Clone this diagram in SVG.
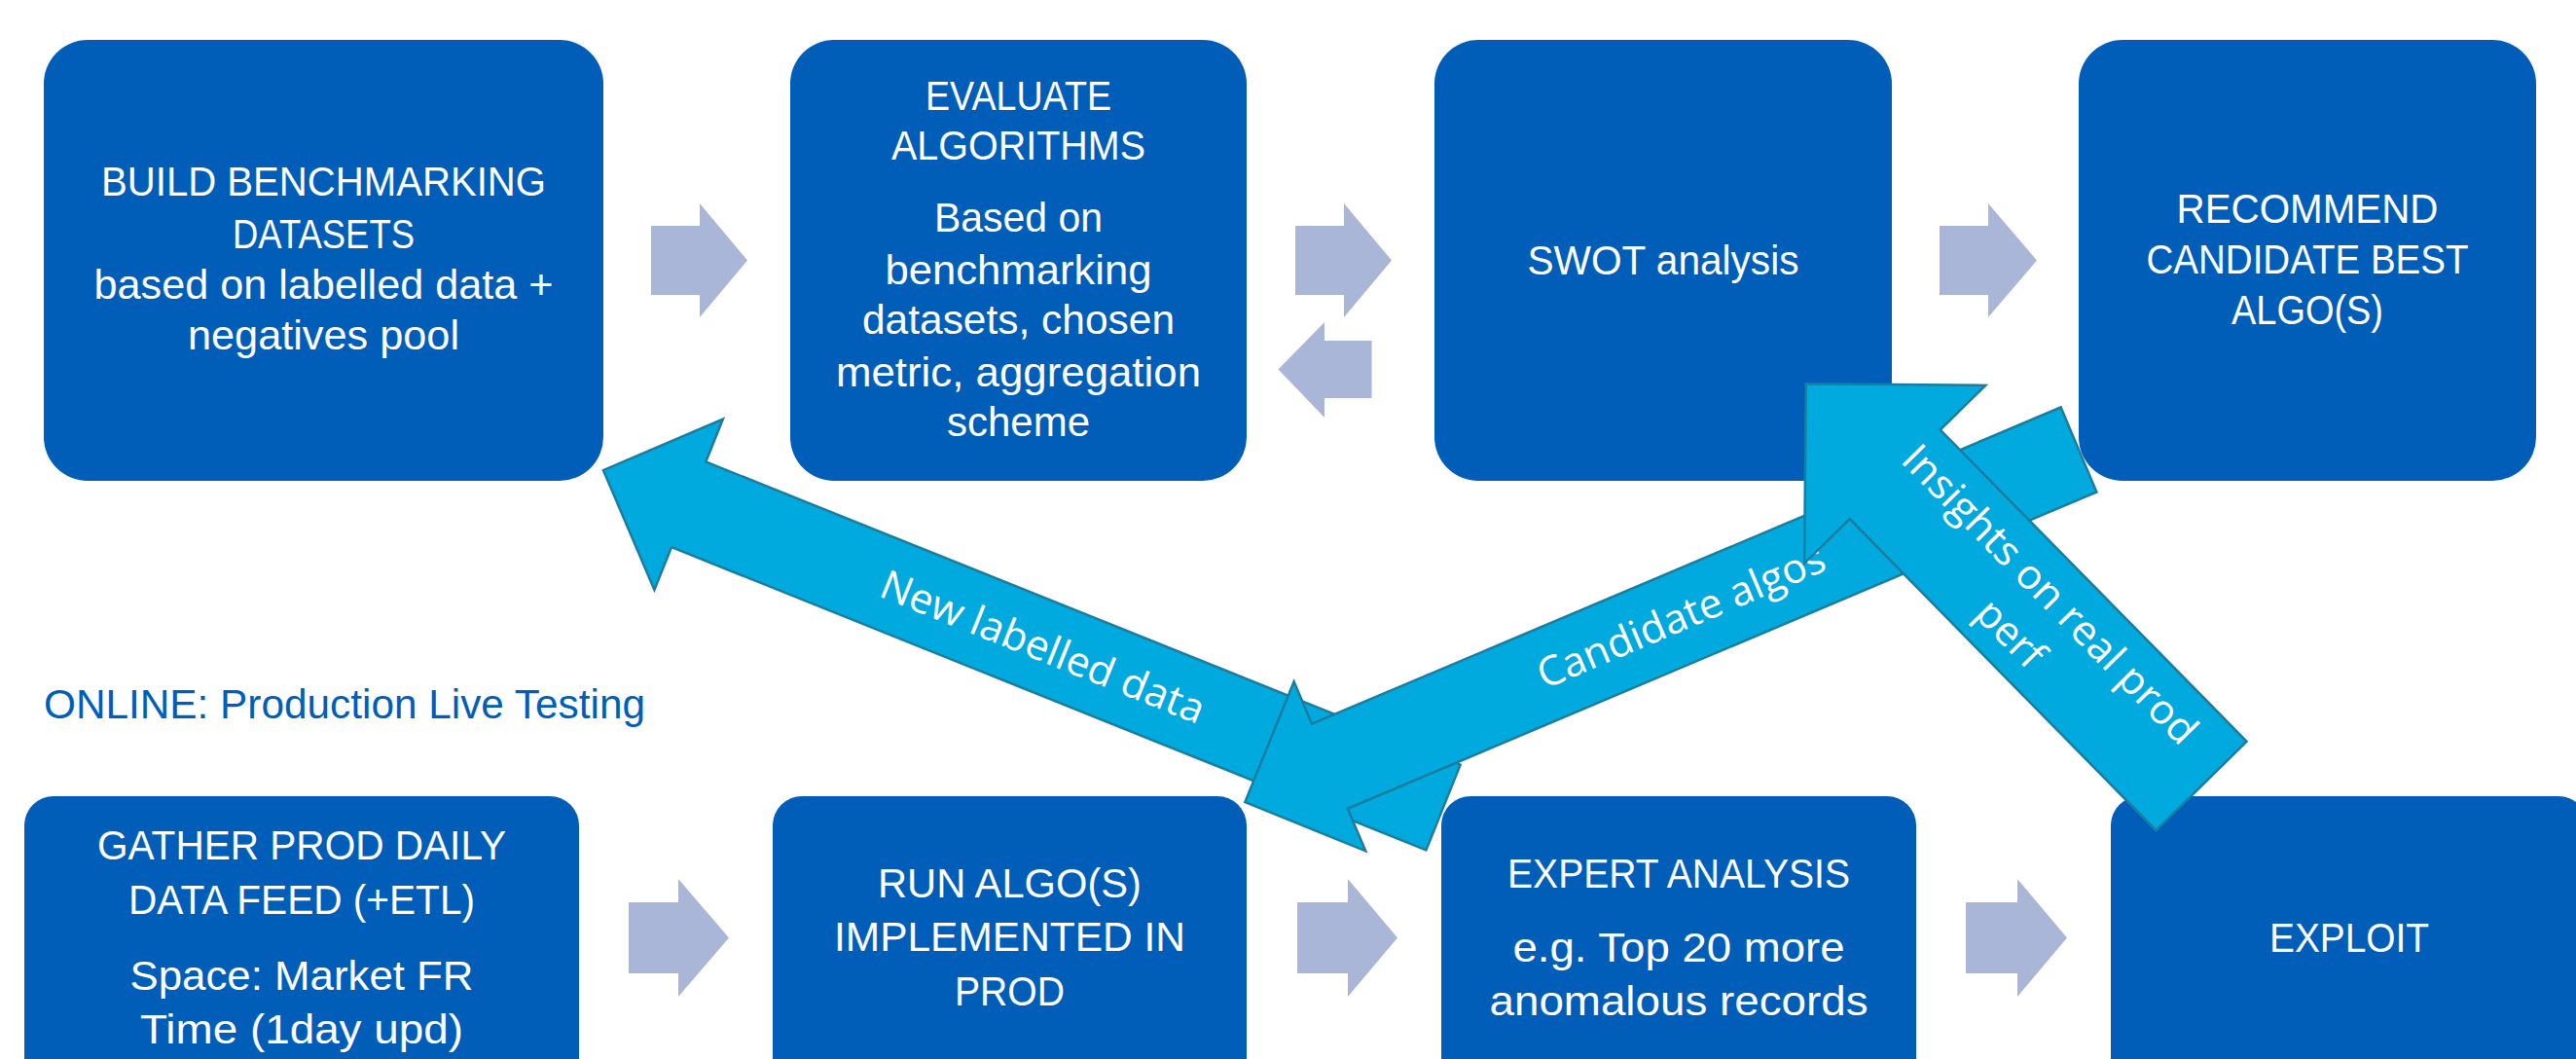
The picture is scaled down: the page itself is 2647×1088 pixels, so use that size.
<svg xmlns="http://www.w3.org/2000/svg" width="2647" height="1088" viewBox="0 0 2647 1088">
  <style>
    .box { fill: #005EB8; }
    .step { fill: #AAB6D8; }
    .flow { fill: #00AADF; stroke: #1A7C9E; stroke-width: 2.5; stroke-linejoin: miter; }
    .t { font-family: "Liberation Sans", Arial, sans-serif; font-size: 42px; fill: #FFFFFF; text-anchor: middle; }
    .lbl { font-family: "Open Sans", "Noto Sans", sans-serif; font-size: 42px; fill: #FFFFFF; text-anchor: middle; }
    .section { font-family: "Liberation Sans", Arial, sans-serif; font-size: 42px; fill: #005EB8; }
  </style>
  <rect width="2647" height="1088" fill="#FFFFFF"/>

  <!-- offline row -->
  <g id="build-datasets">
    <rect class="box" x="45" y="41" width="575" height="453" rx="45"/>
    <text class="t" x="332.5" y="201" textLength="457" lengthAdjust="spacingAndGlyphs">BUILD BENCHMARKING</text>
    <text class="t" x="332.5" y="255" textLength="187" lengthAdjust="spacingAndGlyphs">DATASETS</text>
    <text class="t" x="332.5" y="307" textLength="472" lengthAdjust="spacingAndGlyphs">based on labelled data +</text>
    <text class="t" x="332.5" y="359" textLength="279" lengthAdjust="spacingAndGlyphs">negatives pool</text>
  </g>
  <g id="evaluate-algorithms">
    <rect class="box" x="812" y="41" width="469" height="453" rx="45"/>
    <text class="t" x="1046.5" y="113" textLength="191" lengthAdjust="spacingAndGlyphs">EVALUATE</text>
    <text class="t" x="1046.5" y="164" textLength="261" lengthAdjust="spacingAndGlyphs">ALGORITHMS</text>
    <text class="t" x="1046.5" y="238" textLength="173" lengthAdjust="spacingAndGlyphs">Based on</text>
    <text class="t" x="1046.5" y="292" textLength="274" lengthAdjust="spacingAndGlyphs">benchmarking</text>
    <text class="t" x="1046.5" y="343" textLength="321" lengthAdjust="spacingAndGlyphs">datasets, chosen</text>
    <text class="t" x="1046.5" y="397" textLength="375" lengthAdjust="spacingAndGlyphs">metric, aggregation</text>
    <text class="t" x="1046.5" y="448" textLength="147" lengthAdjust="spacingAndGlyphs">scheme</text>
  </g>
  <g id="swot-analysis">
    <rect class="box" x="1474" y="41" width="470" height="453" rx="45"/>
    <text class="t" x="1709" y="282" textLength="279" lengthAdjust="spacingAndGlyphs">SWOT analysis</text>
  </g>
  <g id="recommend-best">
    <rect class="box" x="2136" y="41" width="470" height="453" rx="45"/>
    <text class="t" x="2371" y="229" textLength="269" lengthAdjust="spacingAndGlyphs">RECOMMEND</text>
    <text class="t" x="2371" y="281" textLength="331" lengthAdjust="spacingAndGlyphs">CANDIDATE BEST</text>
    <text class="t" x="2371" y="333" textLength="156" lengthAdjust="spacingAndGlyphs">ALGO(S)</text>
  </g>

  <text id="online-title" class="section" x="45" y="738" textLength="618" lengthAdjust="spacingAndGlyphs">ONLINE: Production Live Testing</text>

  <!-- online row -->
  <g id="gather-feed">
    <rect class="box" x="25" y="818" width="570" height="400" rx="30"/>
    <text class="t" x="310" y="883" textLength="420" lengthAdjust="spacingAndGlyphs">GATHER PROD DAILY</text>
    <text class="t" x="310" y="939" textLength="356" lengthAdjust="spacingAndGlyphs">DATA FEED (+ETL)</text>
    <text class="t" x="310" y="1017" textLength="353" lengthAdjust="spacingAndGlyphs">Space: Market FR</text>
    <text class="t" x="310" y="1072" textLength="332" lengthAdjust="spacingAndGlyphs">Time (1day upd)</text>
  </g>
  <g id="run-algos">
    <rect class="box" x="794" y="818" width="487" height="400" rx="30"/>
    <text class="t" x="1037.5" y="922" textLength="271" lengthAdjust="spacingAndGlyphs">RUN ALGO(S)</text>
    <text class="t" x="1037.5" y="977" textLength="361" lengthAdjust="spacingAndGlyphs">IMPLEMENTED IN</text>
    <text class="t" x="1037.5" y="1033" textLength="113" lengthAdjust="spacingAndGlyphs">PROD</text>
  </g>
  <g id="expert-analysis">
    <rect class="box" x="1481" y="818" width="488" height="400" rx="30"/>
    <text class="t" x="1725" y="912" textLength="352" lengthAdjust="spacingAndGlyphs">EXPERT ANALYSIS</text>
    <text class="t" x="1725" y="988" textLength="341" lengthAdjust="spacingAndGlyphs">e.g. Top 20 more</text>
    <text class="t" x="1725" y="1043" textLength="389" lengthAdjust="spacingAndGlyphs">anomalous records</text>
  </g>
  <g id="exploit">
    <rect class="box" x="2169" y="818" width="490" height="400" rx="30"/>
    <text class="t" x="2414" y="978" textLength="164" lengthAdjust="spacingAndGlyphs">EXPLOIT</text>
  </g>

  <g id="connectors">
    <!-- step arrows between boxes -->
    <polygon class="step" points="669,232 719,232 719,209 768,267.5 719,326 719,303 669,303"/>
    <polygon class="step" points="1331,232 1381,232 1381,209 1430,267.5 1381,326 1381,303 1331,303"/>
    <polygon class="step" points="1409.5,350 1361,350 1361,331 1313.5,379.5 1361,429 1361,409 1409.5,409"/>
    <polygon class="step" points="1993,232 2043,232 2043,209 2093,267.5 2043,326 2043,303 1993,303"/>
    <polygon class="step" points="646,927 697,927 697,903 749,963.5 697,1024 697,1000 646,1000"/>
    <polygon class="step" points="1333,927 1385,927 1385,903 1436,963.5 1385,1024 1385,1000 1333,1000"/>
    <polygon class="step" points="2020,927 2073,927 2073,903 2124,963.5 2073,1024 2073,1000 2020,1000"/>

    <!-- feedback flows: origin at tail centre, +x toward the tip -->
    <g id="flow-new-labelled">
      <polygon class="flow" transform="translate(1483,829.5) rotate(201.87)" points="0,-47.25 835.5,-47.25 835.5,-94.5 930,0 835.5,94.5 835.5,47.25 0,47.25"/>
      <text class="lbl" transform="translate(1071.7,664.3) rotate(21.87)" y="15" textLength="355" lengthAdjust="spacingAndGlyphs">New labelled data</text>
    </g>
    <g id="flow-candidate">
      <polygon class="flow" transform="translate(2136,462) rotate(157.09)" points="0,-47.25 835.5,-47.25 835.5,-94.5 930,0 835.5,94.5 835.5,47.25 0,47.25"/>
      <text class="lbl" transform="translate(1728,634.5) rotate(-22.91)" y="13" textLength="317" lengthAdjust="spacingAndGlyphs">Candidate algos</text>
    </g>
    <g id="flow-insights">
      <polygon class="flow" transform="translate(2262,807.5) rotate(-134.52)" points="0,-65.25 449,-65.25 449,-130.5 579.5,0 449,130.5 449,65.25 0,65.25"/>
      <g transform="translate(2087,630) rotate(45.48)">
        <text class="lbl" y="-13" textLength="412" lengthAdjust="spacingAndGlyphs">Insights on real prod</text>
        <text class="lbl" y="44">perf</text>
      </g>
    </g>
  </g>
</svg>
